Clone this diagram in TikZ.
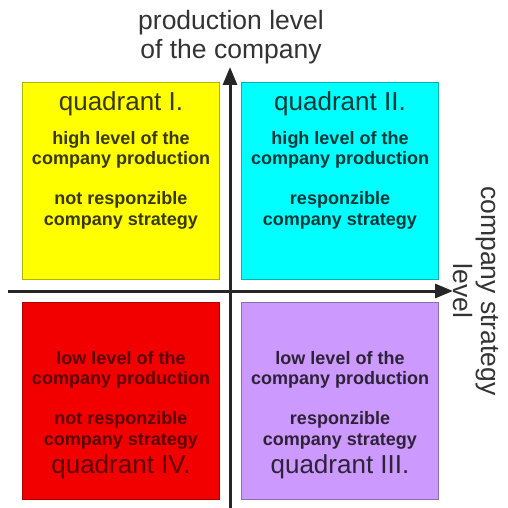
\documentclass[tikz,border=0pt]{standalone}
\usepackage{fontspec}
\setmainfont{Liberation Sans}
\usetikzlibrary{arrows.meta}
\definecolor{qyellow}{HTML}{FFFF00}
\definecolor{qcyan}{HTML}{00FFFF}
\definecolor{qred}{HTML}{F20000}
\definecolor{qpurple}{HTML}{CC99FF}
\definecolor{axiscol}{HTML}{262626}
\definecolor{titlecol}{HTML}{333333}
\tikzset{
  quad/.style={draw=#1!70!black, line width=0.8pt, minimum width=197pt, minimum height=197pt, fill=#1, inner sep=0pt},
  qlabel/.style={text=black!78!#1, font=\fontsize{26}{29}\selectfont, inner sep=0pt},
  qtext/.style={text=black!78!#1, font=\fontsize{18}{20.5}\selectfont\bfseries, align=center, inner sep=0pt},
  axis/.style={draw=axiscol, line width=3pt, -{Triangle[length=18pt,width=14pt]}},
  ttl/.style={text=titlecol, font=\fontsize{26.5}{28.5}\selectfont, align=center, inner sep=0pt}
}
\begin{document}
\begin{tikzpicture}[x=1pt,y=-1pt]
\useasboundingbox (0,0) rectangle (507,508);
% quadrants
\node[quad=qyellow] (q1) at (120.5,180.5) {};
\node[quad=qcyan] (q2) at (340,180.5) {};
\node[quad=qred] (q4) at (120.5,400.5) {};
\node[quad=qpurple] (q3) at (340,400.5) {};
% axes
\coordinate (hs) at (8,291);
\coordinate (he) at (453,291);
\coordinate (vs) at (230,508);
\coordinate (ve) at (230,67);
\draw[axis] (hs) -- (he);
\draw[axis] (vs) -- (ve);
% titles
\node[ttl] (t1) at (231,37) {production level\\of the company};
\node[ttl, rotate=-90] (t2) at (476,291) {company strategy\\level};
% quadrant I
\node[qlabel=qyellow] (l1) at (121,104) {quadrant I.};
\node[qtext=qyellow] (a1) at (121,150) {high level of the\\company production};
\node[qtext=qyellow] (b1) at (121,210.5) {not responzible\\company strategy};
% quadrant II
\node[qlabel=qcyan] (l2) at (340,104) {quadrant II.};
\node[qtext=qcyan] (a2) at (340,150) {high level of the\\company production};
\node[qtext=qcyan] (b2) at (340,210.5) {responzible\\company strategy};
% quadrant IV
\node[qtext=qred, text=black!62!qred] (a4) at (121,370) {low level of the\\company production};
\node[qtext=qred, text=black!62!qred] (b4) at (121,430.5) {not responzible\\company strategy};
\node[qlabel=qred, text=black!62!qred] (l4) at (121,467) {quadrant IV.};
% quadrant III
\node[qtext=qpurple] (a3) at (340,370) {low level of the\\company production};
\node[qtext=qpurple] (b3) at (340,430.5) {responzible\\company strategy};
\node[qlabel=qpurple] (l3) at (340,467) {quadrant III.};
\end{tikzpicture}
\end{document}
